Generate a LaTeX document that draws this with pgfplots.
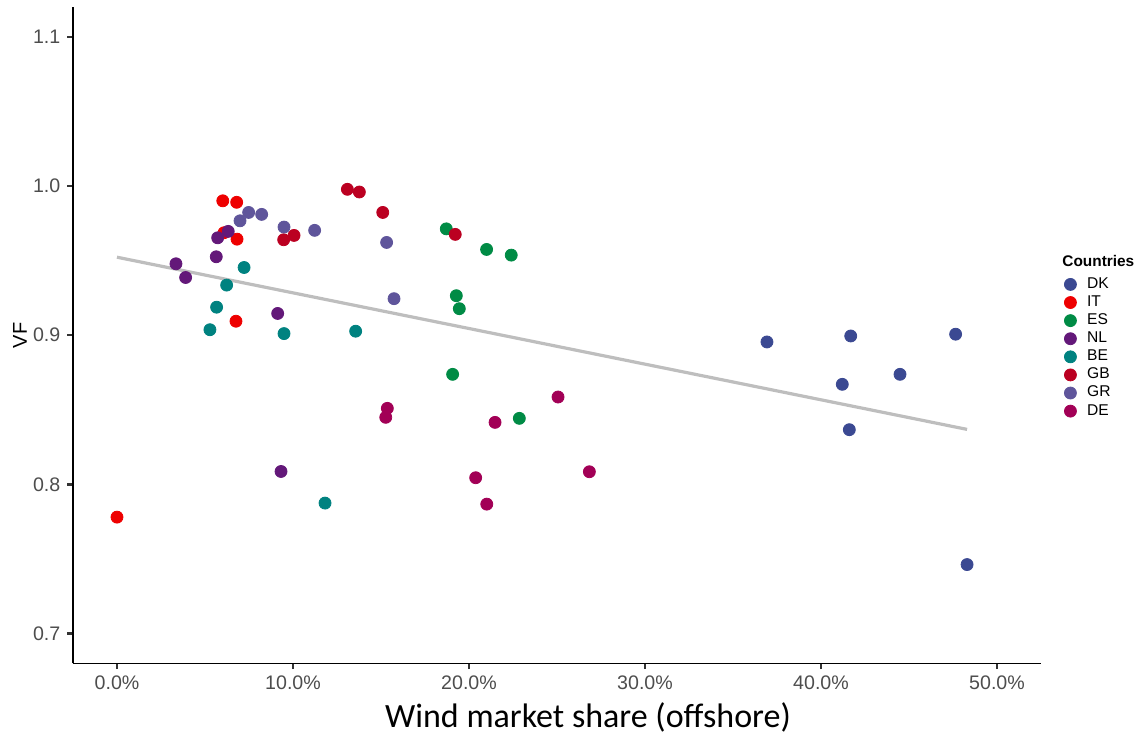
\documentclass[border=0pt]{standalone}
\usepackage{fontspec}
\setmainfont{Liberation Sans}
\newfontfamily\carlito{Carlito}
\usepackage{pgfplots}
\pgfplotsset{compat=1.18}
\definecolor{cDK}{HTML}{3B4992}
\definecolor{cIT}{HTML}{EE0000}
\definecolor{cES}{HTML}{008B45}
\definecolor{cNL}{HTML}{631879}
\definecolor{cBE}{HTML}{008280}
\definecolor{cGB}{HTML}{BB0021}
\definecolor{cGR}{HTML}{5F559B}
\definecolor{cDE}{HTML}{A20056}
\definecolor{tickgray}{HTML}{4D4D4D}
\definecolor{fitgray}{HTML}{BEBEBE}
\pgfplotsset{pt/.style={only marks, mark=*, mark size=3pt, color=#1, mark options={draw=none, fill=#1},
  legend image code/.code={\draw[##1] plot coordinates {(0pt,0pt)};}}}
\begin{document}
\begin{tikzpicture}
\useasboundingbox (-36.5pt,-36.75pt) rectangle (532pt,331.75pt);
\begin{axis}[
 at={(0pt,0pt)}, anchor=south west,
 width=484pt, height=328.25pt, scale only axis,
 xmin=-2.5, xmax=52.5, ymin=0.68, ymax=1.12,
 axis x line*=bottom, axis y line*=left,
 axis line style={-, line width=0.85pt, black},
 xtick={0,10,20,30,40,50},
 xticklabels={0.0\%,10.0\%,20.0\%,30.0\%,40.0\%,50.0\%},
 ytick={0.7,0.8,0.9,1.0,1.1},
 yticklabels={0.7,0.8,0.9,1.0,1.1},
 /pgf/number format/assume math mode=true,
 tick align=outside, major tick length=2.8pt,
 tick style={line width=1.2pt, color=black!80},
 ticklabel style={font=\fontsize{9.8}{11}\selectfont, color=tickgray},
 xlabel={Wind market share (offshore)},
 xlabel style={font=\carlito\fontsize{17}{20}\selectfont, at={(axis description cs:0.532,-0.0815)}, anchor=center},
 ylabel={VF},
 ylabel style={font=\fontsize{10}{12}\selectfont, at={(axis description cs:-0.0548,0.5)}, anchor=center},
 legend style={at={(axis description cs:1.0238,0.5918)}, anchor=north west, draw=none, fill=none,
   font=\fontsize{7.8}{9}\selectfont, inner sep=0pt, column sep=5.35pt,
   nodes={inner sep=0pt, text height=6.5pt, text depth=2.55pt}},
 legend cell align=left,
]
\addplot[pt=cDK] coordinates {(36.93,0.8955) (41.69,0.8995) (47.65,0.9007) (44.49,0.8738) (41.21,0.8671) (41.61,0.8367) (48.30,0.7463)};
\addlegendentry{DK}
\addplot[pt=cIT] coordinates {(6.01,0.9901) (6.80,0.9891) (6.08,0.9687) (6.82,0.9644) (6.76,0.9094) (0.0,0.7781)};
\addlegendentry{IT}
\addplot[pt=cES] coordinates {(18.71,0.9713) (21.00,0.9575) (22.40,0.9537) (19.28,0.9265) (19.45,0.9178) (19.07,0.8738) (22.86,0.8443)};
\addlegendentry{ES}
\addplot[pt=cNL] coordinates {(6.32,0.9696) (5.72,0.9653) (5.64,0.9526) (3.35,0.9479) (3.90,0.9387) (9.13,0.9146) (9.32,0.8087)};
\addlegendentry{NL}
\addplot[pt=cBE] coordinates {(7.22,0.9454) (6.23,0.9336) (5.66,0.9188) (5.28,0.9037) (9.49,0.9011) (13.56,0.9027) (11.82,0.7875)};
\addlegendentry{BE}
\addplot[pt=cGB] coordinates {(13.09,0.9978) (13.77,0.9960) (15.10,0.9823) (19.22,0.9676) (10.06,0.9669) (9.47,0.9640)};
\addlegendentry{GB}
\addplot[pt=cGR] coordinates {(7.48,0.9823) (8.22,0.9810) (6.99,0.9767) (9.49,0.9725) (11.23,0.9703) (15.32,0.9622) (15.74,0.9245)};
\addlegendentry{GR}
\addplot[pt=cDE] coordinates {(25.06,0.8586) (15.36,0.8510) (15.27,0.8450) (21.48,0.8416) (20.38,0.8045) (26.84,0.8085) (21.01,0.7868)};
\addlegendentry{DE}
\addplot[forget plot, no marks, color=fitgray, line width=1.6pt] coordinates {(0,0.9523) (48.30,0.8369)};
\end{axis}
\node[anchor=west, inner sep=0pt, font=\bfseries\fontsize{7.7}{9}\selectfont] at (494.5pt,201.4pt) {Countries};
\end{tikzpicture}
\end{document}
